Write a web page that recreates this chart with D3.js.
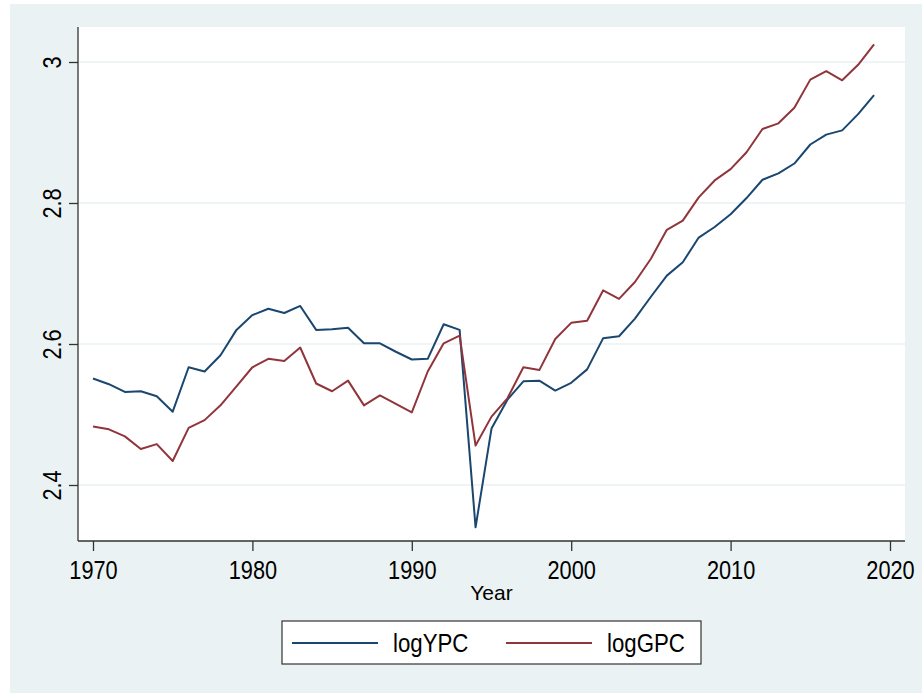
<!DOCTYPE html>
<html>
<head>
<meta charset="utf-8">
<script src="https://cdn.jsdelivr.net/npm/d3@7"></script>
<style>
  html, body { margin: 0; padding: 0; background: #fff; }
  svg { display: block; font-family: 'Liberation Sans', Arial, sans-serif; }
</style>
</head>
<body>
<div id="root"></div>
<script>
const years = d3.range(1970, 2020)

const logYPC = [
  2.551, 2.543, 2.532, 2.533, 2.526, 2.504, 2.567, 2.561, 2.584, 2.620,
  2.641, 2.650, 2.644, 2.654, 2.620, 2.621, 2.623, 2.601, 2.601, 2.589,
  2.578, 2.579, 2.628, 2.620, 2.340, 2.480, 2.521, 2.547, 2.548, 2.534,
  2.545, 2.564, 2.608, 2.611, 2.636, 2.667, 2.697, 2.716, 2.751, 2.766,
  2.784, 2.807, 2.833, 2.842, 2.856, 2.883, 2.897, 2.903, 2.926, 2.953
]

const logGPC = [
  2.483, 2.479, 2.469, 2.451, 2.458, 2.434, 2.481, 2.492, 2.513, 2.540,
  2.567, 2.579, 2.576, 2.595, 2.544, 2.533, 2.548, 2.513, 2.527, 2.515,
  2.503, 2.561, 2.601, 2.612, 2.456, 2.497, 2.523, 2.567, 2.563, 2.607,
  2.630, 2.633, 2.676, 2.664, 2.688, 2.721, 2.762, 2.775, 2.808, 2.832,
  2.848, 2.872, 2.905, 2.913, 2.935, 2.975, 2.987, 2.974, 2.996, 3.025
]

const xTicks = [1970, 1980, 1990, 2000, 2010, 2020]
const yTicks = [2.4, 2.6, 2.8, 3.0]
const seriesNames = ['logYPC', 'logGPC']
const seriesColors = ['#1a476f', '#90353b']

// -------- drawing --------
const W = 922, H = 693
const plot = { left: 78, right: 905, top: 27, bottom: 541 }
const bg = '#eaf2f3'
const squeeze = 0.87

const svg = d3.select('#root').append('svg')
  .attr('width', W)
  .attr('height', H)

svg.append('rect')
  .attr('x', 10).attr('y', 4)
  .attr('width', W - 10).attr('height', H - 4)
  .attr('fill', bg)

svg.append('rect')
  .attr('x', plot.left).attr('y', plot.top)
  .attr('width', plot.right - plot.left).attr('height', plot.bottom - plot.top)
  .attr('fill', '#fff')

const x = d3.scaleLinear().domain([1970, 2020]).range([93, 890])
const y = d3.scaleLinear().domain([2.4, 3.0]).range([485, 62])

// gridlines
svg.append('g')
  .selectAll('line')
  .data(yTicks)
  .join('line')
    .attr('x1', plot.left).attr('x2', plot.right)
    .attr('y1', d => y(d)).attr('y2', d => y(d))
    .attr('stroke', bg)
    .attr('stroke-width', 1.5)

// series
const series = [logYPC, logGPC]
series.forEach((vals, i) => {
  const line = d3.line()
    .x((d, j) => x(years[j]))
    .y(d => y(d))
  svg.append('path')
    .datum(vals)
    .attr('d', line)
    .attr('fill', 'none')
    .attr('stroke', seriesColors[i])
    .attr('stroke-width', 2)
    .attr('stroke-linejoin', 'round')
})

// x axis
const xAxis = svg.append('g')
  .attr('transform', `translate(0,${plot.bottom})`)
  .call(d3.axisBottom(x).tickValues(xTicks).tickFormat(d3.format('d')).tickSize(10).tickSizeOuter(0))
xAxis.select('.domain').remove()
xAxis.append('line')
  .attr('x1', plot.left).attr('x2', plot.right)
  .attr('stroke', '#333').attr('stroke-width', 1.3)
xAxis.selectAll('.tick line').attr('stroke', '#333').attr('stroke-width', 1.3)
xAxis.selectAll('.tick text')
  .attr('y', 38).attr('dy', 0)
  .attr('transform', `scale(${squeeze},1)`)
  .attr('font-size', 25)
  .attr('font-family', null)
  .attr('fill', '#000')

// y axis
const yAxis = svg.append('g')
  .attr('transform', `translate(${plot.left},0)`)
  .call(d3.axisLeft(y).tickValues(yTicks).tickFormat(d => d3.format('')(+d.toFixed(1))).tickSize(9).tickSizeOuter(0))
yAxis.select('.domain').remove()
yAxis.append('line')
  .attr('y1', plot.top).attr('y2', plot.bottom)
  .attr('stroke', '#333').attr('stroke-width', 1.3)
yAxis.selectAll('.tick line').attr('stroke', '#333').attr('stroke-width', 1.3)
yAxis.selectAll('.tick text')
  .attr('x', 0).attr('dy', 0)
  .attr('text-anchor', 'middle')
  .attr('transform', `translate(-17,0) rotate(-90) scale(${squeeze},1)`)
  .attr('font-size', 25)
  .attr('font-family', null)
  .attr('fill', '#000')

// axis title
svg.append('text')
  .attr('x', (plot.left + plot.right) / 2)
  .attr('y', 600)
  .attr('text-anchor', 'middle')
  .attr('font-size', 21)
  .text('Year')

// legend
const legend = svg.append('g')
legend.append('rect')
  .attr('x', 282).attr('y', 621)
  .attr('width', 419).attr('height', 43)
  .attr('fill', '#fff')
  .attr('stroke', '#333')
  .attr('stroke-width', 1.2)

const legendX = [292, 506]
seriesNames.forEach((name, i) => {
  const lx = legendX[i]
  legend.append('line')
    .attr('x1', lx).attr('x2', lx + 86)
    .attr('y1', 643).attr('y2', 643)
    .attr('stroke', seriesColors[i])
    .attr('stroke-width', 2)
  legend.append('text')
    .attr('transform', `translate(${lx + 101},652) scale(${squeeze + 0.02},1)`)
    .attr('font-size', 25)
    .text(name)
})
</script>
</body>
</html>
